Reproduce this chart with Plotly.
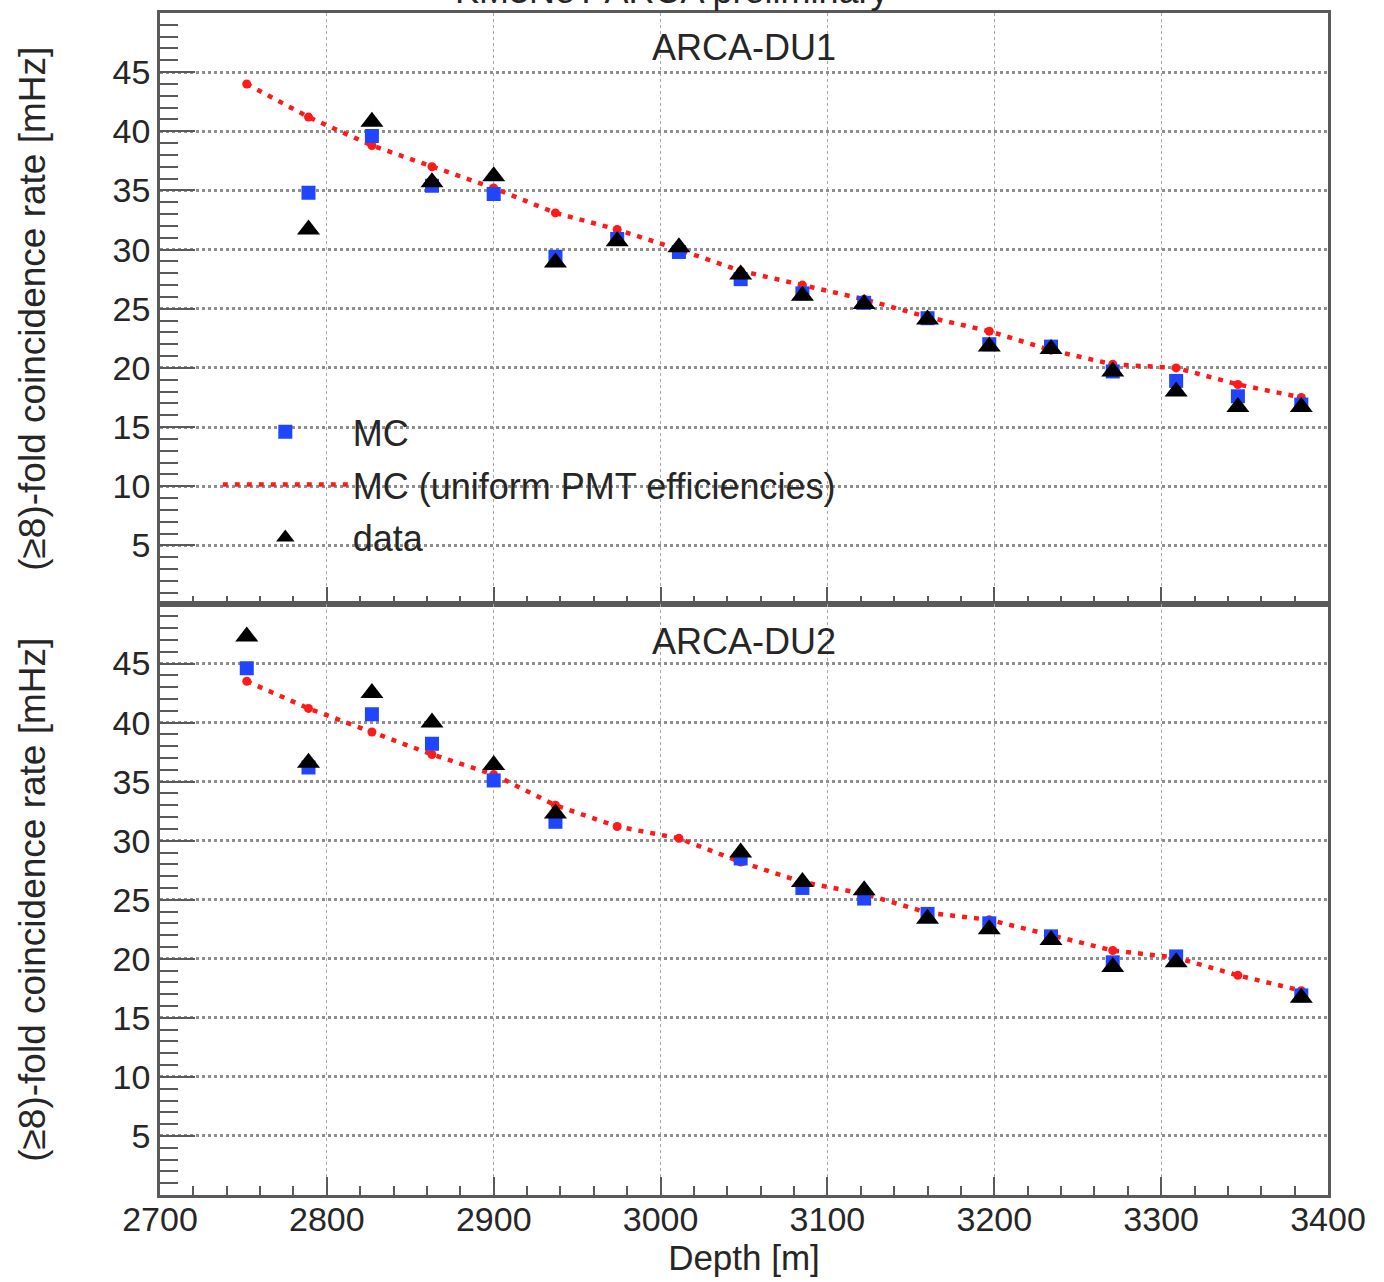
import plotly.graph_objects as go

# ---------------- data ----------------
depth = [2752, 2789, 2827, 2863, 2900, 2937, 2974, 3011, 3048, 3085,
         3122, 3160, 3197, 3234, 3271, 3309, 3346, 3384]

# ARCA-DU1
mc_du1 = [None, 34.8, 39.6, 35.4, 34.7, 29.4, 30.9, 29.8, 27.5, 26.3,
          25.5, 24.2, 22.0, 21.8, 19.7, 18.9, 17.6, 16.9]
data_du1 = [None, 31.7, 40.8, 35.7, 36.2, 28.9, 30.7, 30.2, 27.9, 26.1,
            25.4, 24.1, 21.8, 21.6, 19.7, 18.0, 16.7, 16.7]
uni_du1 = [44.0, 41.2, 38.8, 37.0, 35.2, 33.1, 31.7, 30.0, 28.2, 27.0,
           25.8, 24.3, 23.1, 21.5, 20.3, 20.0, 18.6, 17.5]

# ARCA-DU2
mc_du2 = [44.6, 36.2, 40.7, 38.2, 35.1, 31.6, None, None, 28.5, 26.0,
          25.1, 23.8, 23.0, 21.9, 19.7, 20.2, None, 16.9]
data_du2 = [47.3, 36.6, 42.5, 40.0, 36.4, 32.3, None, None, 29.0, 26.5,
            25.8, 23.4, 22.5, 21.6, 19.3, 19.7, None, 16.7]
uni_du2 = [43.5, 41.2, 39.2, 37.3, 35.6, 33.0, 31.2, 30.2, 28.2, 26.5,
           25.5, 23.9, 23.3, 22.0, 20.7, 20.1, 18.6, 17.3]

y_ticks = [5, 10, 15, 20, 25, 30, 35, 40, 45]
x_ticks = [2700, 2800, 2900, 3000, 3100, 3200, 3300, 3400]
panel_names = ["ARCA-DU1", "ARCA-DU2"]
legend_names = ["MC", "MC (uniform PMT efficiencies)", "data"]
y_title = "(≥8)-fold coincidence rate [mHz]"
x_title = "Depth [m]"
header = "KM3NeT ARCA preliminary"

# ---------------- style ----------------
FONT = "Liberation Sans, Arial, sans-serif"
TXT = "#262626"
FRAME = "#5a5a5a"
BLUE = "#1f45ff"
RED = "#ff1a1a"
RED_DASH = "5px,7px"

fig = go.Figure()

panels = [("x", "y", uni_du1, mc_du1, data_du1, True),
          ("x2", "y2", uni_du2, mc_du2, data_du2, False)]

for xa, ya, uni, mc, dat, show in panels:
    fig.add_trace(go.Scatter(
        x=depth, y=uni, xaxis=xa, yaxis=ya, mode="lines",
        line=dict(color=RED, width=4.5, dash=RED_DASH),
        name=legend_names[1], legendgroup="b", legendrank=2, showlegend=show))
    fig.add_trace(go.Scatter(
        x=depth, y=uni, xaxis=xa, yaxis=ya, mode="markers",
        marker=dict(color=RED, size=9, symbol="circle"),
        showlegend=False, hoverinfo="skip"))
    fig.add_trace(go.Scatter(
        x=depth, y=mc, xaxis=xa, yaxis=ya, mode="markers",
        marker=dict(color=BLUE, size=14, symbol="square"),
        name=legend_names[0], legendgroup="a", legendrank=1, showlegend=show))
    fig.add_trace(go.Scatter(
        x=depth, y=dat, xaxis=xa, yaxis=ya, mode="markers",
        marker=dict(color="black", size=20, symbol="triangle-up"),
        name=legend_names[2], legendgroup="c", legendrank=3, showlegend=show))

split = (1195 - 603) / 1185.0

common_x = dict(
    range=[x_ticks[0], x_ticks[-1]], tickvals=x_ticks,
    ticks="inside", ticklen=18, tickwidth=1.5, tickcolor=FRAME,
    minor=dict(ticks="inside", ticklen=9, dtick=20, tick0=2700,
               tickcolor=FRAME, tickwidth=1.5, showgrid=False),
    showgrid=True, gridcolor="#a8a8a8", gridwidth=1.3, griddash="dot",
    showline=True, mirror=True, linecolor=FRAME, linewidth=2.5,
    zeroline=False,
    tickfont=dict(family=FONT, size=34, color=TXT),
)
common_y = dict(
    range=[0, 50], tickvals=y_ticks,
    ticks="inside", ticklen=35, tickwidth=1.5, tickcolor=FRAME,
    minor=dict(ticks="inside", ticklen=18, dtick=1, tick0=0,
               tickcolor=FRAME, tickwidth=1.5, showgrid=False),
    showgrid=True, gridcolor="#8f8f8f", gridwidth=2.5, griddash="dot",
    showline=True, mirror=True, linecolor=FRAME, linewidth=2.5,
    zeroline=False,
    tickfont=dict(family=FONT, size=34, color=TXT),
    ticklabelstandoff=0,
    title=dict(text=y_title, font=dict(family=FONT, size=37, color=TXT),
               standoff=56),
)

fig.update_layout(
    width=1384, height=1282,
    margin=dict(l=160, r=56, t=10, b=87),
    paper_bgcolor="white", plot_bgcolor="white",
    font=dict(family=FONT, color=TXT),
    xaxis=dict(domain=[0, 1], anchor="y", showticklabels=False,
               matches="x2", **common_x),
    xaxis2=dict(domain=[0, 1], anchor="y2", showticklabels=True,
                ticklabelstandoff=-8,
                title=dict(text=x_title, font=dict(family=FONT, size=35, color=TXT),
                           standoff=2),
                **common_x),
    yaxis=dict(domain=[split, 1], anchor="x", **common_y),
    yaxis2=dict(domain=[0, split], anchor="x2", **common_y),
    showlegend=True,
    legend=dict(x=0.0495, y=0.671, xanchor="left", yanchor="top",
                bgcolor="rgba(0,0,0,0)", borderwidth=0,
                font=dict(family=FONT, size=36, color=TXT),
                traceorder="grouped", tracegroupgap=3, itemwidth=125),
)

fig.add_annotation(text=panel_names[0], xref="paper", yref="paper",
                   x=0.5, y=(1195 - 45) / 1185.0, yanchor="middle",
                   showarrow=False,
                   font=dict(family=FONT, size=36, color=TXT))
fig.add_annotation(text=panel_names[1], xref="paper", yref="paper",
                   x=0.5, y=(1195 - 640) / 1185.0, yanchor="middle",
                   showarrow=False,
                   font=dict(family=FONT, size=36, color=TXT))
fig.add_annotation(text=header, xref="paper", yref="paper",
                   x=(671 - 160) / 1168.0, y=1.0, xanchor="center",
                   yanchor="bottom", yshift=0, showarrow=False,
                   font=dict(family=FONT, size=36, color=TXT))

fig.write_html("out.html")
